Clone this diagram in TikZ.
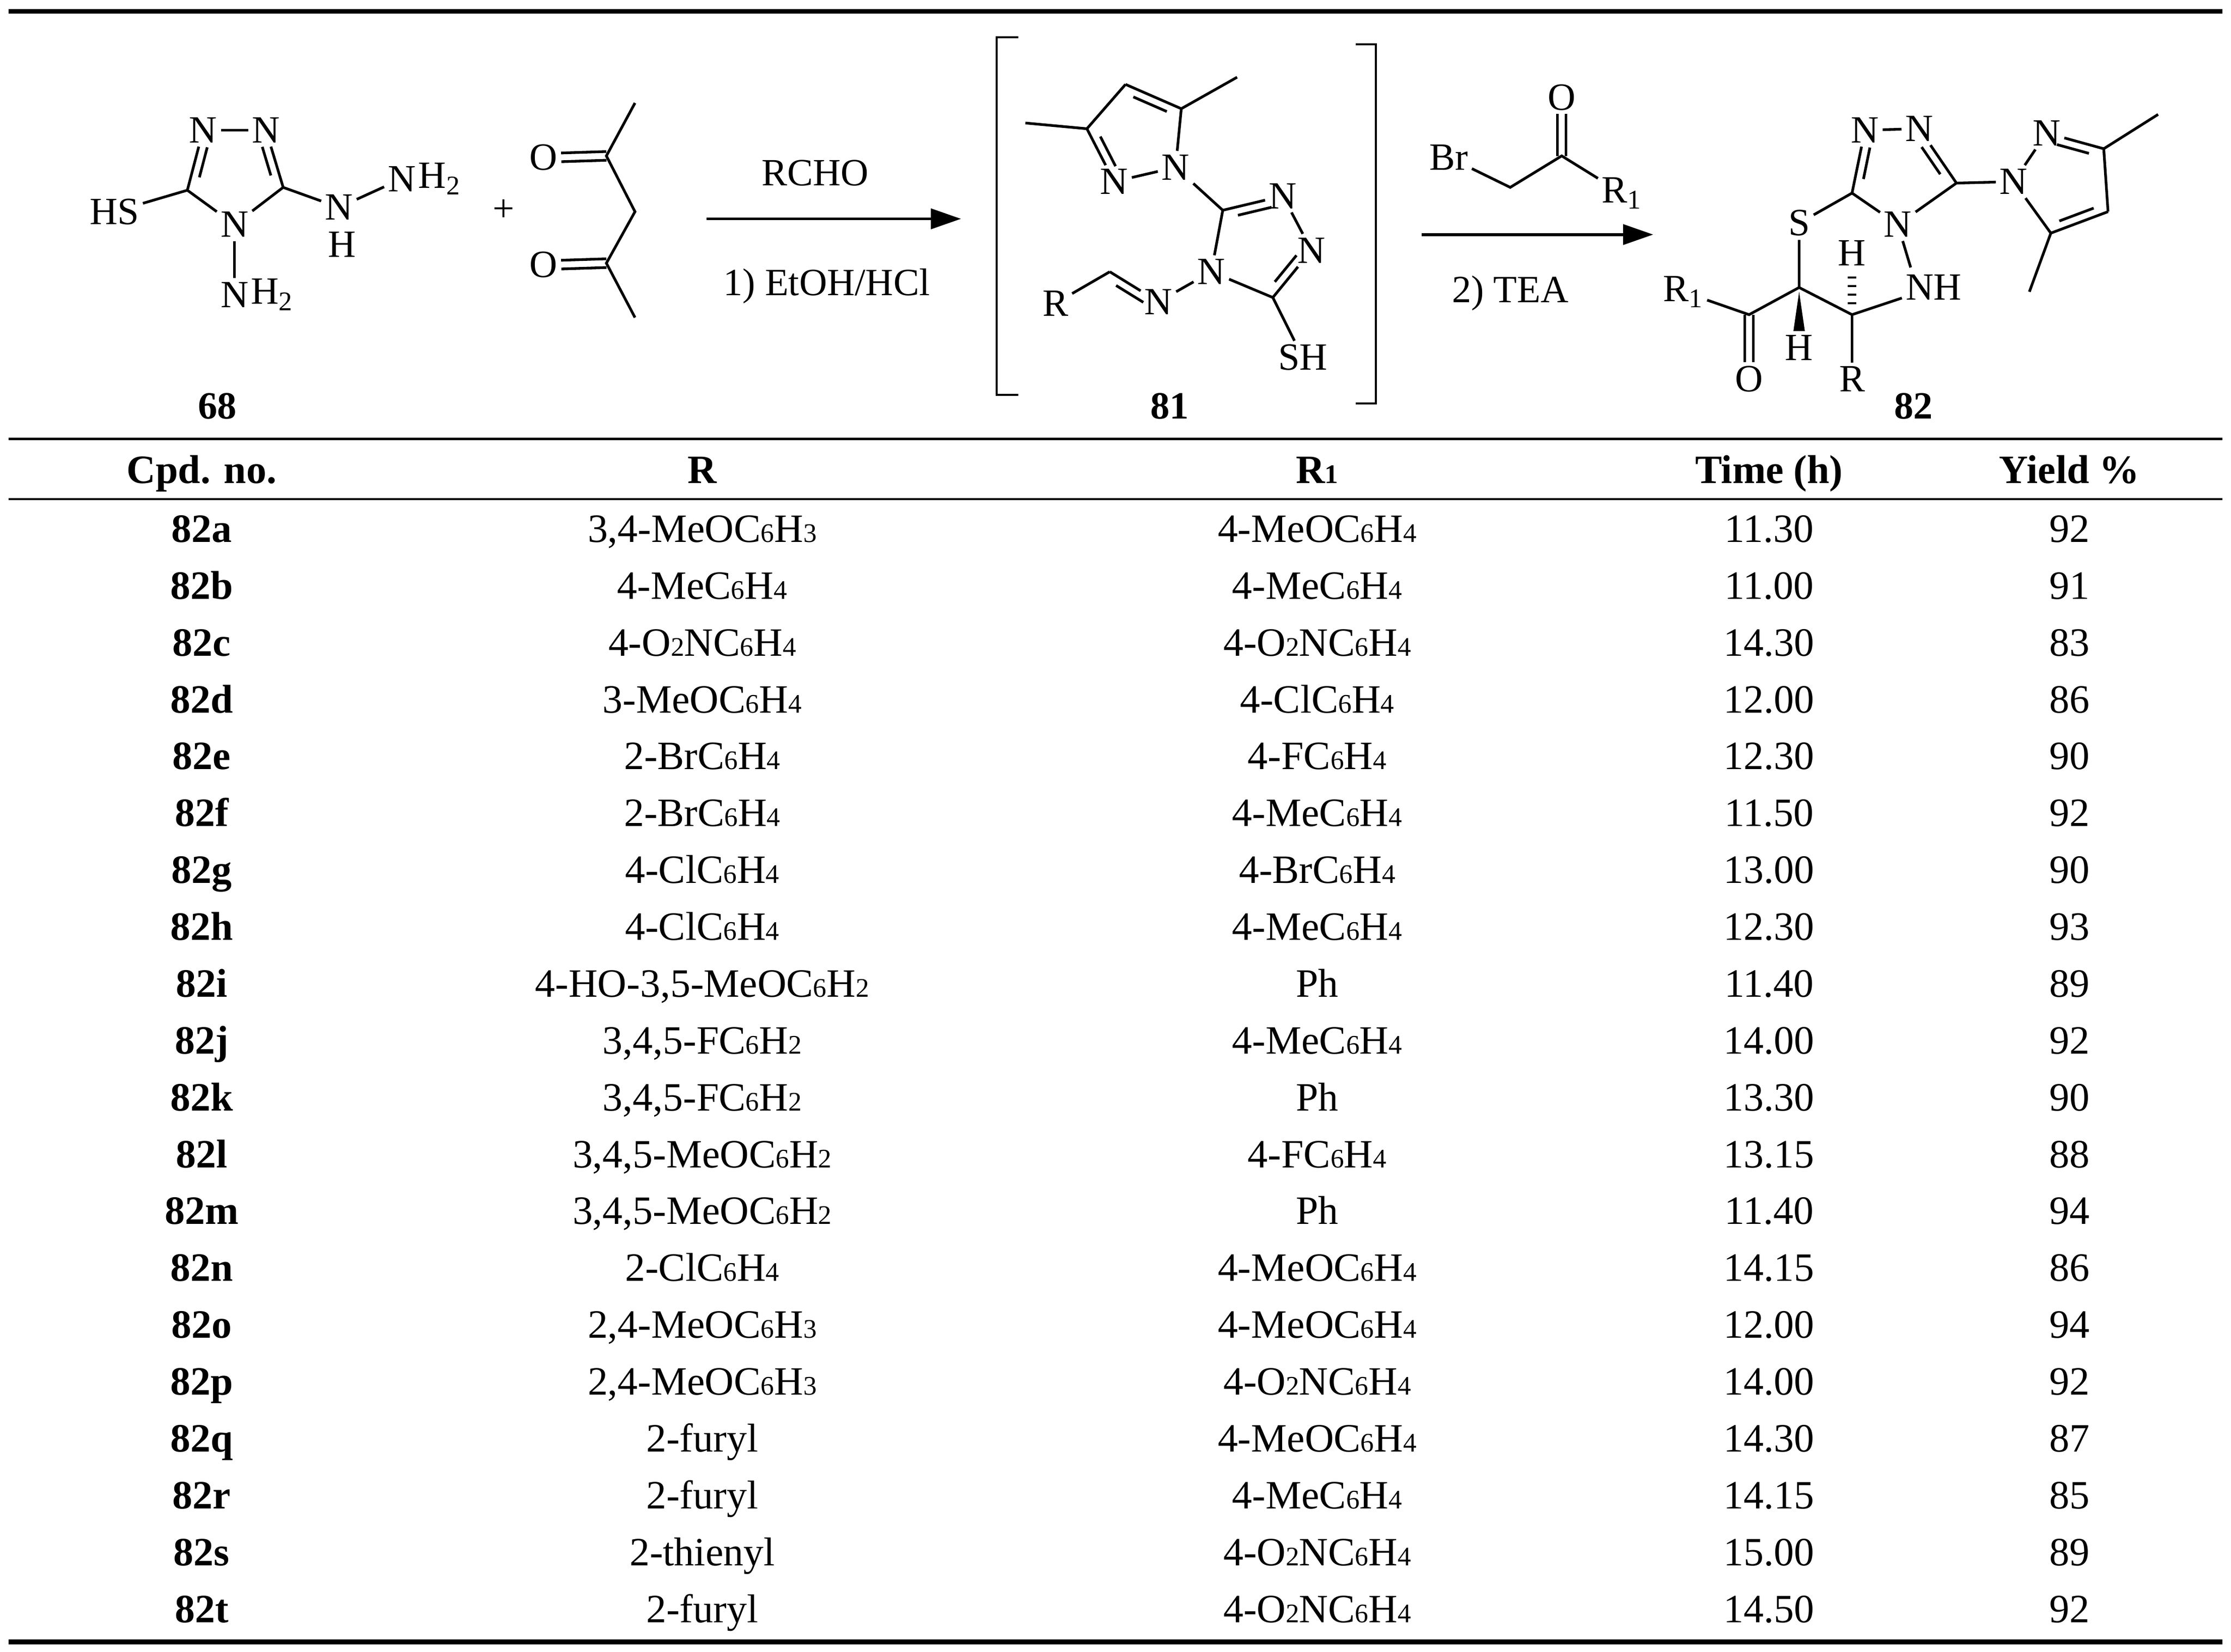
\documentclass[tikz,border=0pt]{standalone}
\usepackage{fontspec}
\setmainfont{Liberation Serif}
\usetikzlibrary{calc,arrows.meta}
\newcommand\sdig[1]{{\fontsize{16}{16}\selectfont #1}}
\newcommand\dbl[4][0.2]{\draw (#2) -- (#3); \draw ($(#2)!#1!(#3)!5pt!#4:(#3)$) -- ($(#3)!#1!(#2)!5pt!-#4:(#2)$);}
\newcommand\sdbl[2]{\draw ($(#1)!2.6pt!90:(#2)$) -- ($(#2)!2.6pt!-90:(#1)$); \draw ($(#1)!2.6pt!-90:(#2)$) -- ($(#2)!2.6pt!90:(#1)$);}
\newcommand\trow[6]{%
 \node[cell,font=\bfseries\fontsize{24}{26}\selectfont] (c#1) at (141,{372+#1*39.75}) {#2};
 \node[cell] (r#1) at (491,{372+#1*39.75}) {#3};
 \node[cell] (q#1) at (921,{372+#1*39.75}) {#4};
 \node[cell] (t#1) at (1237,{372+#1*39.75}) {#5};
 \node[cell] (y#1) at (1447,{372+#1*39.75}) {#6};}
\begin{document}
\begin{tikzpicture}[x=0.3mm,y=-0.3mm,
  cell/.style={inner sep=0pt,text height=17pt,text depth=5pt,font=\fontsize{24}{26}\selectfont},
  atom/.style={inner sep=1.5pt,font=\fontsize{23}{25}\selectfont},
  lbl/.style={inner sep=0pt,font=\fontsize{23}{25}\selectfont},
  bnd/.style={line width=1.6pt},
  rule/.style={line width=1.4pt},
  thickrule/.style={line width=2.8pt},
  arr/.style={line width=1.8pt,-{Triangle[length=18pt,width=12pt]}}]
\useasboundingbox (0,0) rectangle (1560,1155);
% rules
\draw[thickrule] (6,8) -- (1554,8);
\draw[rule] (6,307) -- (1554,307);
\draw[rule] (6,349) -- (1554,349);
\draw[thickrule] (6,1148) -- (1554,1148);
\begin{scope}[bnd]
% ---- 68
\node[atom] (a1) at (142,91) {N};
\node[atom] (a2) at (186,91) {N};
\coordinate (a3) at (198,131);
\node[atom] (a4) at (164,157) {N};
\coordinate (a5) at (131,133);
\node[atom] (hs) at (80,148) {HS};
\node[atom] (nh) at (237,145) {N};
\node[lbl] at (239,171) {H};
\node[atom] (nh2) at (281,125) {N};
\node[lbl,anchor=west] at ([xshift=-1.5pt]nh2.east) {H\textsubscript{2}};
\node[atom] (nb) at (164,206) {N};
\node[lbl,anchor=west] at ([xshift=-1.5pt]nb.east) {H\textsubscript{2}};
\draw (a1) -- (a2);
\dbl[0.25]{a5}{a1}{-90}
\dbl[0.25]{a3}{a2}{90}
\draw (a3) -- (a4) -- (a5) -- (hs);
\draw (a3) -- (nh) -- (nh2);
\draw (a4) -- (nb);
\node[lbl,font=\bfseries\fontsize{23}{25}\selectfont] (l68) at (152,284) {68};
\node[lbl] (plus) at (352,147) {+};
% acac
\coordinate (m1) at (444,72);
\coordinate (k1) at (424,109);
\node[atom] (o1) at (380,110) {O};
\coordinate (ch2) at (444,148);
\coordinate (k2) at (424,184);
\node[atom] (o2) at (380,185) {O};
\coordinate (m2) at (444,222);
\draw (m1) -- (k1) -- (ch2) -- (k2) -- (m2);
\sdbl{o1.east}{k1}
\sdbl{o2.east}{k2}
% arrow 1
\coordinate (ar1s) at (494,153);
\coordinate (ar1e) at (672,153);
\draw[arr] (ar1s) -- (ar1e);
\node[lbl] (rcho) at (570,121) {RCHO};
\node[lbl] (etoh) at (578,200) {1) EtOH/HCl};
% bracket
\coordinate (bl1) at (712,26); \coordinate (bl2) at (697,26);
\coordinate (bl3) at (697,276); \coordinate (bl4) at (712,276);
\draw[line width=1.2pt] (bl1) -- (bl2) -- (bl3) -- (bl4);
\coordinate (br1) at (948,31); \coordinate (br2) at (962,31);
\coordinate (br3) at (962,282); \coordinate (br4) at (948,282);
\draw[line width=1.2pt] (br1) -- (br2) -- (br3) -- (br4);
% ---- 81
\coordinate (pm1) at (717,86);
\coordinate (p3) at (760,90);
\coordinate (p4) at (787,59);
\coordinate (p5) at (826,76);
\coordinate (pm5) at (865,54);
\node[atom] (p1) at (822,117) {N};
\node[atom] (p2) at (779,127) {N};
\draw (pm1) -- (p3); \dbl[0.22]{p3}{p2}{90}
\draw (p3) -- (p4); \dbl{p4}{p5}{-90}
\draw (p5) -- (pm5); \draw (p5) -- (p1); \draw (p1) -- (p2);
\coordinate (t1) at (855,147);
\node[atom] (t2) at (897,137) {N};
\node[atom] (t3) at (917,175) {N};
\coordinate (t4) at (890,208);
\node[atom] (t5) at (847,190) {N};
\node[atom] (sh) at (911,250) {SH};
\node[atom] (ni) at (810,211) {N};
\coordinate (ci) at (776,190);
\node[atom] (ri) at (738,212) {R};
\draw (p1) -- (t1);
\dbl[0.22]{t1}{t2}{-90}
\draw (t2) -- (t3);
\dbl[0.22]{t4}{t3}{90}
\draw (t4) -- (t5) -- (t1);
\draw (t4) -- (sh);
\draw (t5) -- (ni);
\dbl[0.22]{ci}{ni}{-90}
\draw (ri) -- (ci);
\node[lbl,font=\bfseries\fontsize{23}{25}\selectfont] (l81) at (818,284) {81};
% arrow 2
\coordinate (ar2s) at (994,164);
\coordinate (ar2e) at (1156,164);
\draw[arr] (ar2s) -- (ar2e);
\node[lbl] (tea) at (1056,205) {2) TEA};
\node[atom] (bo) at (1092,68) {O};
\coordinate (bc) at (1092,109);
\coordinate (bch) at (1056,131);
\node[atom] (br) at (1013,110) {Br};
\node[atom] (br1) at (1134,135) {R\textsubscript{1}};
\sdbl{bo.south}{bc}
\draw (br) -- (bch) -- (bc) -- (br1);
% ---- 82
\node[atom] (u1) at (1304,91) {N};
\node[atom] (u2) at (1342,90) {N};
\coordinate (u3) at (1368,128);
\node[atom] (u4) at (1327,157) {N};
\coordinate (u5) at (1295,135);
\draw (u1) -- (u2);
\dbl[0.25]{u5}{u1}{-90}
\dbl[0.25]{u3}{u2}{90}
\draw (u3) -- (u4) -- (u5);
\node[atom] (s) at (1258,156) {S};
\coordinate (cs) at (1258,201);
\coordinate (c6) at (1295,220);
\node[atom] (nhh) at (1352,201) {NH};
\node[atom] (hup) at (1295,177) {H};
\node[atom] (hdn) at (1258,243) {H};
\node[atom] (rr) at (1295,265) {R};
\coordinate (cc) at (1223,220);
\node[atom] (oo) at (1223,265) {O};
\node[atom] (rr1) at (1177,204) {R\textsubscript{1}};
\draw (u5) -- (s) -- (cs) -- (c6) -- (nhh);
\draw (u4) -- (1336,187);
\draw (c6) -- (rr);
\draw (cs) -- (cc) -- (rr1);
\sdbl{cc}{oo.north}
\fill ($(cs)+(0,3)$) -- ($(hdn.north)+(-4,0)$) -- ($(hdn.north)+(4,0)$) -- cycle;
\foreach \yy in {194,200,206,212} \draw[line width=1.4pt] (1292,\yy) -- (1298,\yy);
% pyrazole 82
\node[atom] (v1) at (1408,127) {N};
\node[atom] (v2) at (1431,93) {N};
\coordinate (v3) at (1471,104);
\coordinate (vm3) at (1509,80);
\coordinate (v4) at (1474,148);
\coordinate (v5) at (1434,163);
\coordinate (vm5) at (1419,204);
\draw (u3) -- (v1) -- (v2);
\dbl[0.22]{v2}{v3}{-90}
\draw (v3) -- (vm3); \draw (v3) -- (v4);
\dbl{v4}{v5}{-90}
\draw (v5) -- (v1); \draw (v5) -- (vm5);
\node[lbl,font=\bfseries\fontsize{23}{25}\selectfont] (l82) at (1338,284) {82};
\end{scope}
% table header
\begin{scope}[every node/.style={cell,font=\bfseries\fontsize{24}{26}\selectfont}]
\node (h1) at (141,331) {Cpd. no.};
\node (h2) at (491,331) {R};
\node (h3) at (921,331) {R\sdig{1}};
\node (h4) at (1237,331) {Time (h)};
\node (h5) at (1447,331) {Yield \%};
\end{scope}
\trow{0}{82a}{3,4-MeOC\sdig{6}H\sdig{3}}{4-MeOC\sdig{6}H\sdig{4}}{11.30}{92}
\trow{1}{82b}{4-MeC\sdig{6}H\sdig{4}}{4-MeC\sdig{6}H\sdig{4}}{11.00}{91}
\trow{2}{82c}{4-O\sdig{2}NC\sdig{6}H\sdig{4}}{4-O\sdig{2}NC\sdig{6}H\sdig{4}}{14.30}{83}
\trow{3}{82d}{3-MeOC\sdig{6}H\sdig{4}}{4-ClC\sdig{6}H\sdig{4}}{12.00}{86}
\trow{4}{82e}{2-BrC\sdig{6}H\sdig{4}}{4-FC\sdig{6}H\sdig{4}}{12.30}{90}
\trow{5}{82f}{2-BrC\sdig{6}H\sdig{4}}{4-MeC\sdig{6}H\sdig{4}}{11.50}{92}
\trow{6}{82g}{4-ClC\sdig{6}H\sdig{4}}{4-BrC\sdig{6}H\sdig{4}}{13.00}{90}
\trow{7}{82h}{4-ClC\sdig{6}H\sdig{4}}{4-MeC\sdig{6}H\sdig{4}}{12.30}{93}
\trow{8}{82i}{4-HO-3,5-MeOC\sdig{6}H\sdig{2}}{Ph}{11.40}{89}
\trow{9}{82j}{3,4,5-FC\sdig{6}H\sdig{2}}{4-MeC\sdig{6}H\sdig{4}}{14.00}{92}
\trow{10}{82k}{3,4,5-FC\sdig{6}H\sdig{2}}{Ph}{13.30}{90}
\trow{11}{82l}{3,4,5-MeOC\sdig{6}H\sdig{2}}{4-FC\sdig{6}H\sdig{4}}{13.15}{88}
\trow{12}{82m}{3,4,5-MeOC\sdig{6}H\sdig{2}}{Ph}{11.40}{94}
\trow{13}{82n}{2-ClC\sdig{6}H\sdig{4}}{4-MeOC\sdig{6}H\sdig{4}}{14.15}{86}
\trow{14}{82o}{2,4-MeOC\sdig{6}H\sdig{3}}{4-MeOC\sdig{6}H\sdig{4}}{12.00}{94}
\trow{15}{82p}{2,4-MeOC\sdig{6}H\sdig{3}}{4-O\sdig{2}NC\sdig{6}H\sdig{4}}{14.00}{92}
\trow{16}{82q}{2-furyl}{4-MeOC\sdig{6}H\sdig{4}}{14.30}{87}
\trow{17}{82r}{2-furyl}{4-MeC\sdig{6}H\sdig{4}}{14.15}{85}
\trow{18}{82s}{2-thienyl}{4-O\sdig{2}NC\sdig{6}H\sdig{4}}{15.00}{89}
\trow{19}{82t}{2-furyl}{4-O\sdig{2}NC\sdig{6}H\sdig{4}}{14.50}{92}
\end{tikzpicture}
\end{document}
